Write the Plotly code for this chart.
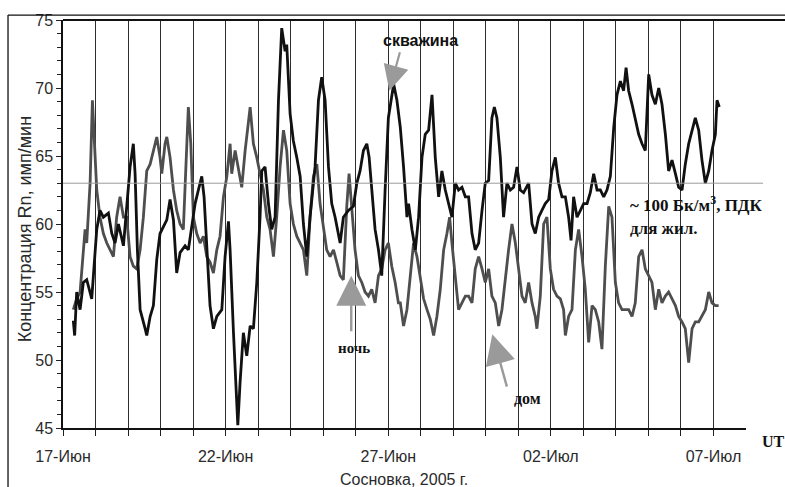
import pandas as pd
import plotly.graph_objects as go

# hours since 17-Jun-2005 00:00 UT, and concentration (imp/min)
well_hours = [7.6, 8.6, 10.1, 12.6, 15.0, 17.5, 21.2, 22.4, 24.9, 27.3, 29.8, 33.5, 36.0, 38.4, 40.9, 44.6,
              47.0, 49.5, 51.9, 53.2, 54.9, 56.9, 60.6, 61.8, 64.3, 66.7, 69.2, 71.6, 76.6, 79.0, 81.5, 83.9,
              86.4, 90.1, 92.5, 95.0, 97.5, 99.9, 102.4, 104.1, 106.1, 108.5, 111.0, 113.5, 117.2, 119.6, 122.1,
              123.3, 125.8, 128.2, 129.0, 130.7, 133.1, 135.6, 138.1, 140.5, 143.0, 145.4, 146.7, 149.1, 151.6,
              154.0, 156.5, 159.0, 161.4, 163.9, 165.1, 167.6, 170.0, 172.5, 175.0, 177.4, 179.9, 182.3, 186.0,
              188.5, 190.9, 193.4, 195.9, 198.3, 200.8, 204.5, 206.9, 210.6, 214.3, 216.8, 219.2, 221.7, 224.2,
              225.9, 227.9, 230.3, 232.8, 235.2, 237.7, 240.1, 244.0, 246.4, 248.9, 251.3, 253.8, 255.0, 257.5,
              260.0, 262.4, 264.9, 267.3, 269.8, 272.3, 274.7, 277.2, 279.6, 282.1, 284.6, 287.0, 289.5, 291.9,
              294.4, 296.9, 299.3, 301.8, 304.2, 306.7, 309.2, 311.6, 314.1, 316.5, 318.3, 320.2, 322.7, 325.1,
              327.6, 330.1, 332.5, 335.0, 337.4, 339.9, 343.6, 346.1, 348.5, 351.0, 353.4, 355.9, 358.4, 360.8,
              363.3, 365.7, 368.2, 370.7, 373.1, 374.9, 376.8, 379.3, 381.8, 384.2, 386.7, 389.1, 391.6, 394.1,
              396.5, 399.0, 401.4, 403.9, 406.4, 408.8, 411.3, 413.7, 415.5, 417.4, 419.9, 422.3, 424.8, 427.3,
              429.7, 432.2, 434.6, 437.1, 439.6, 442.0, 444.5, 446.9, 449.4, 451.9, 454.3, 456.8, 459.2, 461.7,
              464.2, 466.6, 469.1, 471.5, 474.0, 476.5, 478.9, 481.4, 482.6, 484.3]
well_values = [52.9, 51.8, 55.0, 53.7, 55.7, 55.9, 54.5, 56.2, 59.6, 61.0, 60.5, 60.8, 59.3, 58.6, 60.0, 58.4,
               61.5, 64.2, 65.9, 63.7, 58.1, 53.7, 52.3, 51.8, 53.2, 54.0, 57.4, 59.3, 60.3, 61.8, 60.3, 56.4,
               57.9, 58.4, 58.1, 60.0, 61.5, 62.5, 63.5, 62.0, 58.1, 54.0, 52.3, 53.2, 53.7, 57.6, 60.2,
               58.1, 52.0, 46.7, 45.2, 48.4, 52.0, 50.3, 52.5, 52.3, 55.7, 60.5, 63.9, 64.2, 61.5,
               59.6, 60.5, 69.1, 74.4, 72.7, 73.2, 68.1, 66.1, 64.9, 63.5, 60.0, 57.6, 60.5, 64.2,
               69.1, 70.8, 69.1, 64.2, 61.5, 60.5, 58.6, 60.5, 61.0, 61.3, 63.0, 63.9, 65.4, 65.9,
               64.9, 62.5, 59.6, 58.1, 56.2, 62.5, 67.8, 70.3, 69.1, 67.1, 64.2, 60.5, 61.5, 59.6,
               58.1, 60.5, 64.9, 66.6, 66.9, 69.5, 64.9, 62.0, 63.9, 62.5, 61.5, 60.5, 63.0, 62.5,
               62.7, 62.0, 62.0, 59.3, 58.1, 58.6, 61.0, 63.0, 63.2, 67.8, 68.6, 67.8, 64.9, 60.5,
               63.0, 62.5, 62.7, 64.2, 62.5, 62.3, 63.0, 60.0, 59.3, 60.5, 61.0, 61.5, 61.8, 63.9,
               64.9, 63.0, 62.0, 62.0, 60.5, 58.8, 62.0, 60.5, 61.0, 61.5, 61.5, 62.3, 63.7, 62.5,
               62.5, 62.0, 62.5, 63.5, 67.1, 69.5, 70.5, 69.8, 71.5, 69.8, 68.8, 67.8, 66.6, 65.9,
               65.4, 71.0, 69.5, 68.8, 70.0, 68.8, 66.6, 63.9, 64.7, 63.7, 62.7, 62.5, 64.4, 65.9,
               66.9, 67.8, 66.9, 64.7, 63.0, 63.9, 65.4, 66.6, 69.1, 68.6]

house_hours = [7.6, 10.1, 12.6, 15.0, 16.3, 17.5, 20.0, 21.7, 23.2, 24.9, 27.3, 29.8, 32.3, 34.7, 37.2, 39.6,
               42.1, 44.6, 47.0, 49.5, 51.9, 54.4, 56.9, 59.3, 61.8, 64.3, 66.7, 69.2, 71.6, 72.9, 75.3, 76.6,
               79.0, 81.5, 83.9, 86.4, 88.8, 90.1, 92.5, 94.3, 96.2, 98.7, 101.2, 103.6, 106.1, 108.5, 111.0,
               113.5, 115.9, 118.4, 120.9, 123.3, 124.5, 127.0, 129.4, 131.9, 134.4, 136.8, 138.1, 140.5, 143.0,
               145.4, 147.9, 150.4, 152.8, 155.3, 157.7, 160.2, 162.7, 165.1, 167.6, 170.0, 172.5, 175.0, 177.4,
               179.9, 182.3, 184.8, 187.3, 189.7, 192.2, 194.6, 197.1, 199.6, 202.0, 204.5, 206.9, 209.4, 211.1,
               213.1, 215.5, 218.0, 220.5, 222.9, 225.4, 227.8, 230.3, 232.8, 235.2, 237.7, 240.1, 242.6, 245.1,
               247.5, 248.9, 251.3, 253.8, 256.3, 258.7, 261.2, 263.6, 266.1, 268.6, 271.0, 273.5, 275.9, 278.4,
               280.9, 283.3, 285.3, 287.0, 289.5, 291.9, 294.4, 296.9, 299.3, 301.8, 304.2, 306.7, 309.2, 311.6,
               314.1, 316.5, 319.0, 321.5, 323.9, 326.4, 328.8, 331.3, 333.8, 336.2, 338.7, 341.1, 343.6, 346.1,
               348.5, 349.7, 352.2, 354.7, 357.1, 359.6, 362.0, 364.5, 367.0, 369.4, 370.7, 373.1, 375.6, 378.1,
               380.5, 383.0, 385.4, 387.9, 390.4, 392.8, 395.3, 397.7, 400.2, 402.7, 405.1, 407.6, 410.0, 412.5,
               415.0, 417.4, 419.9, 422.3, 424.8, 427.3, 429.7, 432.2, 434.6, 437.1, 439.6, 442.0, 444.5, 446.9,
               449.4, 451.9, 454.3, 456.8, 459.2, 461.7, 464.2, 466.6, 469.1, 471.5, 474.0, 476.5, 478.9, 481.4,
               483.8]
house_values = [53.7, 54.5, 55.0, 58.1, 59.6, 58.6, 63.0, 69.1, 65.9, 62.5, 60.5, 59.3, 58.6, 58.1, 57.6, 60.5,
                62.0, 60.5, 60.5, 57.6, 56.9, 56.7, 58.1, 60.5, 63.9, 64.4, 65.4, 66.4, 64.9, 63.7, 65.9, 66.4,
                64.9, 62.5, 61.0, 60.0, 59.6, 63.0, 68.6, 65.9, 60.5, 59.3, 58.6, 59.1, 57.6, 57.2, 56.4,
                58.1, 59.1, 62.0, 63.5, 65.9, 63.7, 65.4, 64.2, 62.7, 65.4, 67.8, 68.6, 65.9, 64.9,
                63.7, 62.5, 60.5, 59.6, 57.6, 60.5, 64.2, 66.9, 65.4, 61.5, 60.0, 59.1, 58.6, 58.1,
                56.2, 60.5, 63.5, 64.4, 61.5, 59.6, 58.1, 57.6, 58.1, 57.2, 56.2, 55.9, 61.3, 63.7,
                61.0, 58.1, 56.2, 55.7, 55.0, 54.7, 55.2, 54.2, 56.2, 56.7, 58.1, 58.6, 56.9, 55.7,
                54.2, 54.2, 52.5, 53.7, 56.2, 58.6, 57.6, 55.9, 54.5, 53.7, 53.0, 51.8, 53.2, 55.2,
                58.1, 59.3, 60.5, 58.6, 56.2, 53.7, 54.2, 54.7, 54.7, 54.2, 56.7, 57.6, 56.7, 55.7,
                56.7, 54.7, 54.2, 52.5, 53.7, 56.2, 58.1, 60.0, 58.6, 56.7, 54.7, 54.2, 55.7, 54.2,
                53.2, 52.3, 54.7, 60.0, 60.5, 56.7, 55.2, 54.7, 54.5, 53.7, 51.8, 53.2, 53.7, 58.1,
                59.6, 57.6, 55.2, 51.3, 54.0, 53.7, 52.8, 50.8, 56.9, 61.3, 60.5, 55.7, 54.2, 53.7,
                53.7, 53.7, 53.2, 54.2, 57.6, 58.1, 56.7, 56.2, 55.7, 53.7, 55.2, 54.2, 54.7, 55.0,
                54.5, 54.0, 53.2, 52.8, 52.3, 49.8, 52.3, 52.8, 52.8, 53.2, 53.7, 55.0, 54.2, 54.0,
                54.0]

tick_days = list(range(0, 21))
tick_labels = {0: "17-Июн", 5: "22-Июн", 10: "27-Июн", 15: "02-Июл", 20: "07-Июл"}
pdk_level = 63

start = pd.Timestamp("2005-06-17")
def to_t(hours):
    return [start + pd.Timedelta(hours=h) for h in hours]

FONT = "Liberation Sans"
SERIF = "Liberation Serif"

fig = go.Figure()
fig.add_trace(go.Scatter(x=to_t(house_hours), y=house_values, mode="lines",
                         line=dict(color="#4e4e4e", width=2.8), name="дом", showlegend=False))
fig.add_trace(go.Scatter(x=to_t(well_hours), y=well_values, mode="lines",
                         line=dict(color="#111111", width=2.8), name="скважина", showlegend=False))

tickvals = [start + pd.Timedelta(days=d) for d in tick_days]
ticktext = [tick_labels.get(d, "") for d in tick_days]

fig.update_xaxes(range=[start, start + pd.Timedelta(days=21)], tickvals=tickvals, ticktext=ticktext,
                 showgrid=True, gridcolor="#2e2e2e", gridwidth=1.2,
                 ticks="outside", ticklen=6, tickcolor="#222", tickwidth=1.2,
                 showline=True, linecolor="#111", linewidth=1.5,
                 tickfont=dict(family=FONT, size=16, color="#2a2a2a"), ticklabelstandoff=7,
                 zeroline=False)
fig.update_yaxes(range=[45, 75], dtick=5, tick0=45, showgrid=False,
                 ticks="outside", ticklen=5, tickcolor="#222", tickwidth=1.2,
                 minor=dict(dtick=1, ticks="outside", ticklen=4, tickcolor="#222", tickwidth=1.2, showgrid=False),
                 showline=True, linecolor="#111", linewidth=1.5,
                 tickfont=dict(family=FONT, size=16, color="#2a2a2a"), zeroline=False)

shapes = [
    dict(type="line", xref="paper", yref="y", x0=0, x1=1.025, y0=pdk_level, y1=pdk_level,
         line=dict(color="#9a9a9a", width=1)),
    dict(type="line", xref="paper", yref="paper", x0=0, x1=1.06, y0=1.0, y1=1.0,
         line=dict(color="#111", width=2)),
    dict(type="line", xref="paper", yref="paper", x0=-0.0805, x1=1.06, y0=1.012, y1=1.012,
         line=dict(color="#111", width=1.3)),
    dict(type="line", xref="paper", yref="paper", x0=-0.0805, x1=-0.0805, y0=1.012, y1=-0.15,
         line=dict(color="#111", width=1.3)),
]

def T(h):
    return start + pd.Timedelta(hours=h)

annotations = [
    dict(x=T(240.8), y=69.8, ax=11, ay=-40, text="", showarrow=True, arrowhead=2, arrowsize=2.3,
         arrowwidth=2.2, arrowcolor="#9a9a9a"),
    dict(x=T(212.7), y=56.2, ax=0, ay=57, text="", showarrow=True, arrowhead=2, arrowsize=2.5,
         arrowwidth=2.4, arrowcolor="#9a9a9a"),
    dict(x=T(316.8), y=51.9, ax=15, ay=54, text="", showarrow=True, arrowhead=2, arrowsize=2.5,
         arrowwidth=2.4, arrowcolor="#9a9a9a"),
    dict(x=T(263.5), y=73.5, text="<b>скважина</b>", showarrow=False, yanchor="middle",
         font=dict(family=FONT, size=16, color="#111")),
    dict(x=T(214.8), y=50.9, text="<b>ночь</b>", showarrow=False, yanchor="middle",
         font=dict(family=SERIF, size=15, color="#111")),
    dict(x=T(342.7), y=47.2, text="<b>дом</b>", showarrow=False, yanchor="middle",
         font=dict(family=SERIF, size=16, color="#111")),
    dict(x=T(417.1), y=61.5, text="<b>~ 100 Бк/м<sup>3</sup>, ПДК</b>", showarrow=False, xanchor="left",
         yanchor="middle", font=dict(family=SERIF, size=17, color="#111")),
    dict(x=T(417.1), y=59.7, text="<b>для жил.</b>", showarrow=False, xanchor="left", yanchor="middle",
         font=dict(family=SERIF, size=17, color="#111")),
    dict(xref="paper", yref="paper", x=1.02, y=-0.034, text="<b>UT</b>", showarrow=False, xanchor="left",
         yanchor="middle", font=dict(family=SERIF, size=16, color="#111")),
    dict(xref="paper", yref="paper", x=0.499, y=-0.127, text="Сосновка, 2005 г.", showarrow=False,
         yanchor="middle", font=dict(family=FONT, size=16, color="#2a2a2a")),
    dict(xref="paper", yref="paper", x=-0.0556, y=0.487, text="Концентрация Rn, имп/мин", showarrow=False,
         textangle=-90, xanchor="center", yanchor="middle", font=dict(family=FONT, size=18, color="#2a2a2a")),
]

fig.update_layout(width=785, height=487, margin=dict(l=63, r=39, t=17, b=59),
                  plot_bgcolor="white", paper_bgcolor="white",
                  shapes=shapes, annotations=annotations, showlegend=False)

fig.write_html("out.html", config={"displayModeBar": False},
               post_script="document.body.style.margin='0';document.body.style.padding='0';")
